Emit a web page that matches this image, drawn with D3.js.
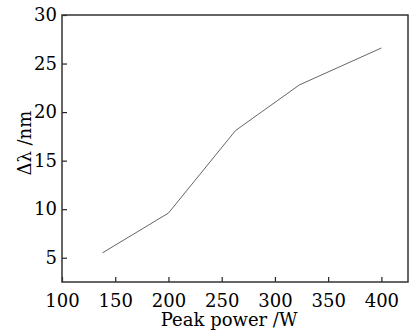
<!DOCTYPE html>
<html>
<head>
<meta charset="utf-8">
<script src="https://cdn.jsdelivr.net/npm/d3@7"></script>
<style>
  body { margin: 0; background: #fff; }
  text { font-family: "DejaVu Serif", serif; fill: #000; }
</style>
</head>
<body>
<div id="chart"></div>
<script>
const peakPower = [138, 200, 263, 323, 400];
const deltaLambda = [5.5, 9.6, 18.1, 22.8, 26.6];
const xTicks = [100, 150, 200, 250, 300, 350, 400];
const yTicks = [5, 10, 15, 20, 25, 30];

const W = 412, H = 336;
const margin = {top: 15, right: 4, bottom: 54, left: 62};
const width = W - margin.left - margin.right;
const height = H - margin.top - margin.bottom;

const svg = d3.select('#chart').append('svg')
    .attr('width', W)
    .attr('height', H);

const g = svg.append('g')
    .attr('transform', 'translate(' + margin.left + ',' + margin.top + ')');

const x = d3.scaleLinear().domain([100, 425]).range([0, width]);
const y = d3.scaleLinear().domain([2.5, 30]).range([height, 0]);

// bottom axis, ticks pointing inward
const xAxis = g.append('g')
    .attr('transform', 'translate(0,' + height + ')')
    .call(d3.axisBottom(x).tickValues(xTicks).tickSizeInner(-5).tickSizeOuter(0).tickPadding(12));

const yAxis = g.append('g')
    .call(d3.axisLeft(y).tickValues(yTicks).tickSizeInner(-5).tickSizeOuter(0).tickPadding(5));

[xAxis, yAxis].forEach(a => {
    a.select('.domain').remove();
    a.selectAll('line').attr('stroke', '#222').attr('stroke-width', 1.2);
    a.selectAll('text').style('font-family', '"DejaVu Serif", serif').style('font-size', '18px').attr('fill', '#000');
});

// frame
g.append('rect')
    .attr('width', width)
    .attr('height', height)
    .attr('fill', 'none')
    .attr('stroke', '#333')
    .attr('stroke-width', 1.5);

const line = d3.line()
    .x((d, i) => x(peakPower[i]))
    .y(d => y(d));

g.append('path')
    .datum(deltaLambda)
    .attr('fill', 'none')
    .attr('stroke', '#666')
    .attr('stroke-width', 1)
    .attr('d', line);

svg.append('text')
    .attr('x', margin.left + x(257))
    .attr('y', 326)
    .attr('text-anchor', 'middle')
    .style('font-size', '18px')
    .text('Peak power /W');

svg.append('text')
    .attr('transform', 'translate(31,' + (margin.top + y(16.8)) + ') rotate(-90)')
    .attr('text-anchor', 'middle')
    .style('font-size', '18px')
    .text('Δλ /nm');
</script>
</body>
</html>
